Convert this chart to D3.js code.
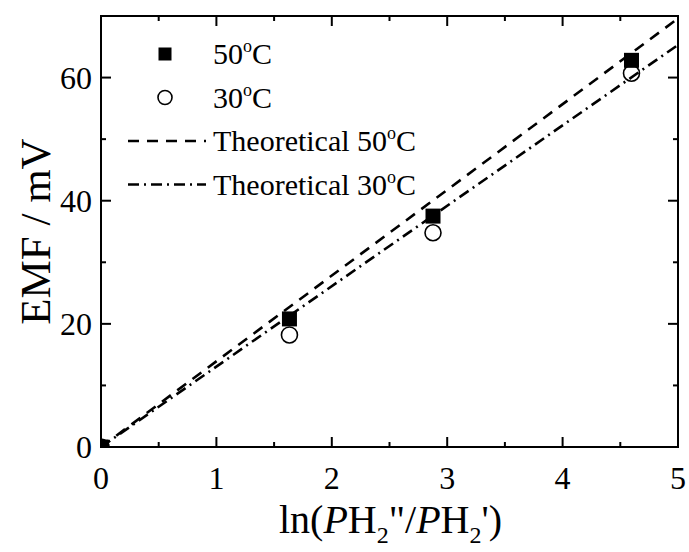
<!DOCTYPE html>
<html>
<head>
<meta charset="utf-8">
<script src="https://cdn.jsdelivr.net/npm/d3@7"></script>
<style>
  body { margin: 0; background: #fff; }
  text { font-family: "Liberation Serif", "Times New Roman", serif; fill: #000; }
  line.tick { stroke: #000; stroke-width: 2px; }
</style>
</head>
<body>
<div id="chart"></div>
<script>
var width  = 689;
var height = 552;

var lnRatio  = [0, 1.633, 2.877, 4.597];
var emf50    = [0, 20.8, 37.5, 62.8];
var emf30    = [0, 18.2, 34.8, 60.7];

// theoretical lines (end points, mV)
var theo50 = [[0, 0], [5, 69.6]];
var theo30 = [[0, 0], [5, 65.3]];

var xTicks = [0, 1, 2, 3, 4, 5];
var yTicks = [0, 20, 40, 60];
var xMinor = [0.5, 1.5, 2.5, 3.5, 4.5];
var yMinor = [10, 30, 50, 70];

var margin = {left: 101, right: 11, top: 16, bottom: 105};
var plotW = width - margin.left - margin.right;
var plotH = height - margin.top - margin.bottom;

var svg = d3.select("#chart").append("svg")
  .attr("width", width)
  .attr("height", height);

var x = d3.scaleLinear().domain([0, 5]).range([0, plotW]);
var y = d3.scaleLinear().domain([0, 70]).range([plotH, 0]);

var g = svg.append("g")
  .attr("transform", "translate(" + margin.left + "," + margin.top + ")");

g.append("clipPath").attr("id", "clip")
  .append("rect").attr("width", plotW).attr("height", plotH);

var plot = g.append("g").attr("clip-path", "url(#clip)");

// circles first, squares over them
plot.selectAll(".c30")
  .data(lnRatio.map(function(d, i) { return [d, emf30[i]]; }))
  .enter().append("circle")
  .attr("class", "c30")
  .attr("cx", function(d) { return x(d[0]); })
  .attr("cy", function(d) { return y(d[1]); })
  .attr("r", 8)
  .style("fill", "white")
  .style("stroke", "black")
  .style("stroke-width", 1.6);

var sq = 15;
plot.selectAll(".s50")
  .data(lnRatio.map(function(d, i) { return [d, emf50[i]]; }))
  .enter().append("rect")
  .attr("class", "s50")
  .attr("x", function(d) { return x(d[0]) - sq / 2; })
  .attr("y", function(d) { return y(d[1]) - sq / 2; })
  .attr("width", sq)
  .attr("height", sq)
  .style("fill", "black");

var line = d3.line()
  .x(function(d) { return x(d[0]); })
  .y(function(d) { return y(d[1]); });

plot.append("path").datum(theo50)
  .attr("d", line)
  .style("fill", "none").style("stroke", "black")
  .style("stroke-width", 2.6)
  .style("stroke-dasharray", "11,8");

plot.append("path").datum(theo30)
  .attr("d", line)
  .style("fill", "none").style("stroke", "black")
  .style("stroke-width", 2.6)
  .style("stroke-dasharray", "11,5,2,5");

// ticks point inward on all four sides
var tickData = [];
xTicks.forEach(function(v) {
  tickData.push({x1: x(v), x2: x(v), y1: plotH, y2: plotH - 10});
  tickData.push({x1: x(v), x2: x(v), y1: 0, y2: 10});
});
xMinor.forEach(function(v) {
  tickData.push({x1: x(v), x2: x(v), y1: plotH, y2: plotH - 5});
  tickData.push({x1: x(v), x2: x(v), y1: 0, y2: 5});
});
yTicks.forEach(function(v) {
  tickData.push({x1: 0, x2: 10, y1: y(v), y2: y(v)});
  tickData.push({x1: plotW, x2: plotW - 10, y1: y(v), y2: y(v)});
});
yMinor.forEach(function(v) {
  tickData.push({x1: 0, x2: 5, y1: y(v), y2: y(v)});
  tickData.push({x1: plotW, x2: plotW - 5, y1: y(v), y2: y(v)});
});

g.selectAll("line.tick").data(tickData).enter().append("line")
  .attr("class", "tick")
  .attr("x1", function(d) { return d.x1; })
  .attr("x2", function(d) { return d.x2; })
  .attr("y1", function(d) { return d.y1; })
  .attr("y2", function(d) { return d.y2; })
  .attr("stroke", "#000")
  .attr("stroke-width", 2);

g.selectAll(".xlab").data(xTicks).enter().append("text")
  .attr("class", "xlab")
  .attr("x", function(d) { return x(d); })
  .attr("y", plotH + 42)
  .attr("text-anchor", "middle")
  .style("font-size", "32px")
  .text(function(d) { return d; });

g.selectAll(".ylab").data(yTicks).enter().append("text")
  .attr("class", "ylab")
  .attr("x", -9)
  .attr("y", function(d) { return y(d) + 11; })
  .attr("text-anchor", "end")
  .style("font-size", "32px")
  .text(function(d) { return d; });

g.append("rect")
  .attr("width", plotW).attr("height", plotH)
  .style("fill", "none").style("stroke", "black").style("stroke-width", 2);

// axis titles
svg.append("text")
  .attr("transform", "translate(50," + (margin.top + plotH / 2) + ") rotate(-90)")
  .attr("text-anchor", "middle")
  .style("font-size", "43px")
  .text("EMF / mV");

var xt = svg.append("text")
  .attr("x", margin.left + plotW / 2 + 1)
  .attr("y", 533)
  .attr("text-anchor", "middle")
  .style("font-size", "40px");
xt.append("tspan").text("ln(");
xt.append("tspan").style("font-style", "italic").text("P");
xt.append("tspan").text("H");
xt.append("tspan").attr("dy", 10).style("font-size", "24px").text("2");
xt.append("tspan").attr("dy", -10).text("\"/");
xt.append("tspan").style("font-style", "italic").text("P");
xt.append("tspan").text("H");
xt.append("tspan").attr("dy", 10).style("font-size", "24px").text("2");
xt.append("tspan").attr("dy", -10).text("')");

// legend
var legendItems = [
  {label: "50", pre: "", kind: "square"},
  {label: "30", pre: "", kind: "circle"},
  {label: "50", pre: "Theoretical ", kind: "dash"},
  {label: "30", pre: "Theoretical ", kind: "dashdot"}
];

var legend = svg.append("g");
legendItems.forEach(function(d, i) {
  var cy = 54 + i * 43.5;
  if (d.kind === "square") {
    legend.append("rect").attr("x", 158.5).attr("y", cy - 6.5)
      .attr("width", 13).attr("height", 13).style("fill", "black");
  } else if (d.kind === "circle") {
    legend.append("circle").attr("cx", 165).attr("cy", cy).attr("r", 7)
      .style("fill", "white").style("stroke", "black").style("stroke-width", 1.6);
  } else {
    legend.append("line").attr("x1", 128).attr("x2", 206)
      .attr("y1", cy).attr("y2", cy)
      .style("stroke", "black").style("stroke-width", 2.6)
      .style("stroke-dasharray", d.kind === "dash" ? "11,8" : "11,5,2,5");
  }
  var t = legend.append("text").attr("x", 213).attr("y", cy + 10)
    .style("font-size", "30px");
  t.append("tspan").text(d.pre + d.label);
  t.append("tspan").attr("dy", -12).style("font-size", "18px").text("o");
  t.append("tspan").attr("dy", 12).text("C");
});
</script>
</body>
</html>
